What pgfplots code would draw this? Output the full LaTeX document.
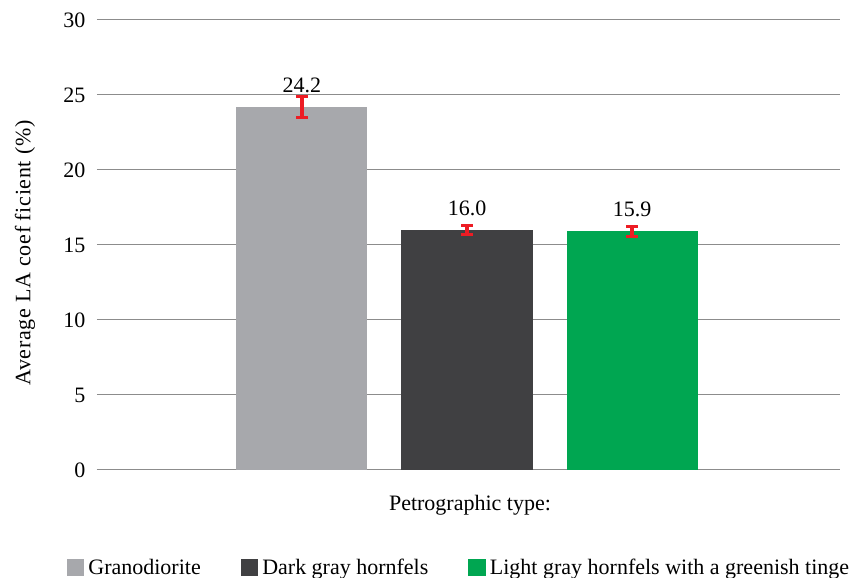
\documentclass[border=0pt]{standalone}
\usepackage{fontspec}
\setmainfont{LiberationSerif}[Extension=.ttf, UprightFont=*-Regular, BoldFont=*-Bold, ItalicFont=*-Italic]
\usepackage{pgfplots}
\pgfplotsset{compat=1.18}
\definecolor{cGrano}{RGB}{167,168,172}
\definecolor{cDark}{RGB}{64,64,66}
\definecolor{cGreen}{RGB}{0,166,81}
\definecolor{cErr}{RGB}{237,28,36}
\definecolor{cGrid}{RGB}{140,140,140}
\newcommand{\fs}{\fontsize{22}{26}\selectfont}
\pgfplotsset{
  errstyle/.style={error bars/.cd, y dir=both, y explicit,
    error bar style={draw=cErr, line width=3.5pt},
    error mark options={rotate=90, mark size=6pt, draw=cErr, line width=3pt}},
}
\begin{document}
\fs
\begin{tikzpicture}
\begin{axis}[
  width=743pt, height=450pt, scale only axis,
  xmin=-1.242, xmax=3.26, ymin=0, ymax=30,
  ytick={0,5,...,30}, xtick=\empty,
  axis x line*=bottom, axis y line*=left,
  y axis line style={draw=none},
  x axis line style={draw=cGrid, line width=1pt, -},
  major tick length=0pt,
  ymajorgrids, grid style={draw=cGrid, line width=1pt},
  /pgf/number format/assume math mode=true,
  tick label style={font=\fs},
  yticklabel style={xshift=-4pt},
  label style={font=\fs},
  xlabel={Petrographic type:},
  xlabel style={at={(axis description cs:0.502,0)}, anchor=base, yshift=-40pt},
  ylabel={\addfontfeatures{LetterSpace=3}Average LA coef\kern0.25em ficient (\%)},
  ylabel style={at={(axis description cs:-0.0969,0.482)}, anchor=center},
  nodes near coords, point meta=explicit symbolic,
  every node near coord/.append style={anchor=base, yshift=14.5pt, font=\fs, text=black},
  legend columns=3,
  legend style={at={(axis description cs:0.4886,-0.218)}, anchor=center, draw=none, fill=none,
    font=\fs,
    nodes={inner xsep=4pt},
    /tikz/every even column/.append style={column sep=36pt}},
  legend image code/.code={\fill[#1] (0pt,-7.5pt) rectangle (17.5pt,9.5pt);},
]
\addplot[ybar, bar width=0.794, bar shift=0pt, fill=cGrano, draw=none, errstyle]
  coordinates {(0,24.2) +- (0,0.7) [24.2]};
\addlegendentry{Granodiorite}
\addplot[ybar, bar width=0.794, bar shift=0pt, fill=cDark, draw=none, errstyle]
  coordinates {(1,16.0) +- (0,0.27) [16.0]};
\addlegendentry{Dark gray hornfels}
\addplot[ybar, bar width=0.794, bar shift=0pt, fill=cGreen, draw=none, errstyle]
  coordinates {(2,15.9) +- (0,0.33) [15.9]};
\addlegendentry{Light gray hornfels with a greenish tinge}
\end{axis}
\pgfresetboundingbox
\path[use as bounding box] ([xshift=-97pt,yshift=-108pt]current axis.south west) rectangle ([xshift=17pt,yshift=20pt]current axis.north east);
\end{tikzpicture}
\end{document}
